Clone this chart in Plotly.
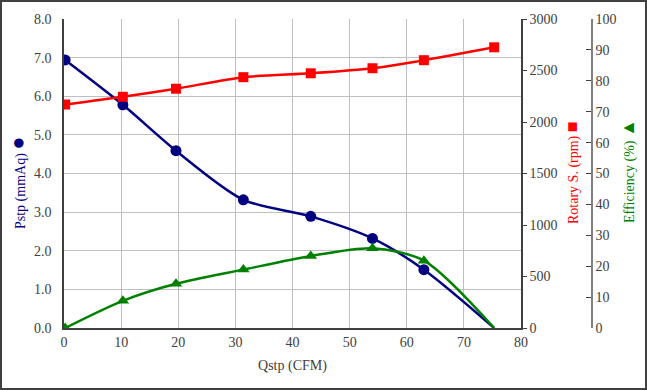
import plotly.graph_objects as go

qstp = [0.2, 10.3, 19.6, 31.4, 43.2, 54.0, 63.0, 75.3]
pstp = [6.94, 5.78, 4.59, 3.32, 2.89, 2.32, 1.51, 0.0]
rpm = [2170, 2245, 2323, 2435, 2473, 2522, 2600, 2725]
eff = [0.0, 8.8, 14.3, 18.9, 23.3, 25.8, 21.8, 0.0]

x_ticks = list(range(0, 81, 10))
p_ticks = [i * 1.0 for i in range(9)]
r_ticks = list(range(0, 3001, 500))
e_ticks = list(range(0, 101, 10))

W, H = 647, 390
L, R, T, B = 64, 40, 19, 62
pw = W - L - R
ph = H - T - B
plot_right = 521
dom_end = (plot_right - L) / pw
eff_pos = (592 - L) / pw

def px_x(px):
    return (px - L) / pw

def px_y(py):
    return (H - B - py) / ph

FONT = "Liberation Serif"
TICKC = "#404040"
TF = dict(family=FONT, size=14, color=TICKC)

# last measured point (shut-off flow) is drawn without a marker in the reference
p_sizes = [11] * (len(qstp) - 1) + [0]
e_sizes = [11] * (len(qstp) - 1) + [0]

fig = go.Figure()
fig.add_trace(go.Scatter(x=qstp, y=pstp, mode="lines+markers", line=dict(color="#000080", width=2.5, shape="spline", smoothing=0.8),
                         marker=dict(symbol="circle", size=p_sizes, color="#000080", opacity=1, line=dict(width=0)),
                         yaxis="y", showlegend=False))
fig.add_trace(go.Scatter(x=qstp, y=rpm, mode="lines+markers", line=dict(color="#FF0000", width=2.5, shape="spline", smoothing=0.8),
                         marker=dict(symbol="square", size=10, color="#FF0000", opacity=1, line=dict(width=0)),
                         yaxis="y2", showlegend=False))
fig.add_trace(go.Scatter(x=qstp, y=eff, mode="lines+markers", line=dict(color="#008000", width=2.5, shape="spline", smoothing=0.8),
                         marker=dict(symbol="triangle-up", size=e_sizes, color="#008000", opacity=1, line=dict(width=0)),
                         yaxis="y3", showlegend=False))

fig.update_layout(
    width=W, height=H,
    margin=dict(l=L, r=R, t=T, b=B, autoexpand=False),
    paper_bgcolor="white", plot_bgcolor="white",
    font=dict(family=FONT, size=14, color=TICKC),
    xaxis=dict(domain=[0, dom_end], range=[0, 80], tickvals=x_ticks, ticktext=[str(v) for v in x_ticks],
               tickfont=TF, automargin=False,
               showgrid=True, gridcolor="#BFBFBF", gridwidth=1, zeroline=False,
               showline=True, linecolor="#404040", linewidth=1.5, ticks="",
               title=dict(text="Qstp (CFM)", font=dict(family=FONT, size=14, color="#404040"), standoff=12)),
    yaxis=dict(range=[0, 8], tickvals=p_ticks, ticktext=[f"{v:.1f}" for v in p_ticks],
               tickfont=TF, automargin=False,
               showgrid=True, gridcolor="#BFBFBF", gridwidth=1, zeroline=False,
               showline=True, linecolor="#404040", linewidth=1.5, ticks="", ticklabelstandoff=8),
    yaxis2=dict(range=[0, 3000], tickvals=r_ticks, ticktext=[str(v) for v in r_ticks], overlaying="y", side="right", anchor="x",
                tickfont=TF, automargin=False,
                showgrid=False, zeroline=False, showline=True, linecolor="#404040", linewidth=1.5,
                ticks="outside", ticklen=4, tickcolor="#404040"),
    yaxis3=dict(range=[0, 100], tickvals=e_ticks, ticktext=[str(v) for v in e_ticks], overlaying="y", side="right", anchor="free", position=eff_pos,
                tickfont=TF, automargin=False,
                showgrid=False, zeroline=False, showline=True, linecolor="#808080", linewidth=1.5,
                ticks="inside", ticklen=5, tickcolor="#404040"),
)

anns = [
    dict(text='Pstp (mmAq) <span style="font-size:22px;color:#000080">●</span>', x=px_x(17), y=px_y(183), color="#000080"),
    dict(text='Rotary S. (rpm) <span style="font-size:18px;color:#FF0000">■</span>', x=px_x(572), y=px_y(173), color="#FF0000"),
    dict(text='Efficiency (%) <span style="font-size:18px;color:#008000">▲</span>', x=px_x(628), y=px_y(171), color="#008000"),
]
for a in anns:
    fig.add_annotation(text=a["text"], x=a["x"], y=a["y"], xref="paper", yref="paper", showarrow=False,
                       textangle=-90, xanchor="center", yanchor="middle",
                       font=dict(family=FONT, size=14, color=a["color"]))

fig.add_shape(type="rect", xref="paper", yref="paper",
              x0=px_x(1), x1=px_x(W - 1), y0=px_y(H - 1), y1=px_y(1),
              line=dict(color="#404040", width=2), fillcolor="rgba(0,0,0,0)", layer="above")

fig.write_html("out.html", config={"displayModeBar": False},
               post_script="document.body.style.margin='0';document.body.style.overflow='hidden';")
